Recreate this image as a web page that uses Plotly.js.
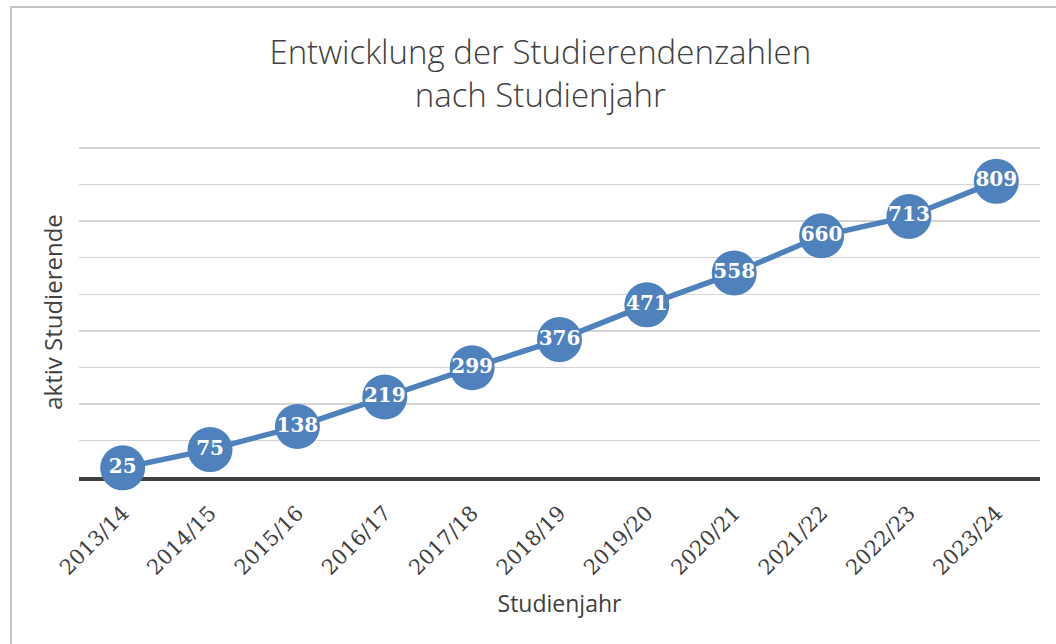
<!DOCTYPE html>
<html>
<head>
<meta charset="utf-8">
<script src="https://cdn.plot.ly/plotly-3.0.1.min.js"></script>
<style>
html, body { margin: 0; padding: 0; background: #ffffff; overflow: hidden; }
#chart { position: absolute; left: 0; top: 0; width: 1056px; height: 644px; }
#frame { position: absolute; left: 10px; top: 6px; width: 1046px; height: 638px;
         border-left: 2px solid #c4c4c4; border-top: 2px solid #c4c4c4; pointer-events: none; }
</style>
</head>
<body>
<div id="chart"></div>
<div id="frame"></div>
<script>
// Data
const studienjahre = ["2013/14", "2014/15", "2015/16", "2016/17", "2017/18", "2018/19",
                      "2019/20", "2020/21", "2021/22", "2022/23", "2023/24"];
const aktivStudierende = [25, 75, 138, 219, 299, 376, 471, 558, 660, 713, 809];
const titelText = "Entwicklung der Studierendenzahlen<br>nach Studienjahr";
const xTitel = "Studienjahr";
const yTitel = "aktiv Studierende";

const trace = {
  type: "scatter",
  mode: "lines+markers+text",
  x: studienjahre,
  y: aktivStudierende,
  text: aktivStudierende.map(String),
  textposition: "middle center",
  textfont: { family: "DejaVu Serif", size: 20, color: "#ffffff", weight: "bold" },
  line: { color: "#4f81bd", width: 5.5 },
  marker: { color: "#4f81bd", size: 45, line: { width: 0 } },
  cliponaxis: false,
  hoverinfo: "x+y",
  showlegend: false
};

const layout = {
  width: 1056,
  height: 644,
  margin: { l: 79, r: 16, t: 147, b: 167, autoexpand: false },
  paper_bgcolor: "#ffffff",
  plot_bgcolor: "#ffffff",
  title: {
    text: titelText,
    font: { family: "Open Sans", size: 33, color: "#404040", weight: 300 },
    x: 0.48, xanchor: "center",
    y: 0.9, yanchor: "middle",
    xref: "paper", yref: "container"
  },
  xaxis: {
    type: "category",
    range: [-0.5, 10.5],
    showgrid: false,
    zeroline: false,
    showline: true,
    linecolor: "#404040",
    linewidth: 3.5,
    layer: "below traces",
    ticks: "",
    tickangle: -45,
    ticklabelstandoff: 12,
    tickfont: { family: "DejaVu Serif", size: 21, color: "#404040" },
    title: { text: xTitel, font: { family: "Open Sans", size: 23, color: "#404040" }, standoff: 18 },
    automargin: false,
    fixedrange: true
  },
  yaxis: {
    range: [0, 903],
    dtick: 100,
    showgrid: true,
    gridcolor: "#d4d4d4",
    gridwidth: 1.5,
    zeroline: false,
    showline: false,
    showticklabels: false,
    ticks: "",
    title: { text: yTitel, font: { family: "Open Sans", size: 24, color: "#404040" }, standoff: 8 },
    automargin: false,
    fixedrange: true
  },
  showlegend: false
};

Plotly.newPlot("chart", [trace], layout, { displayModeBar: false, staticPlot: true });
</script>
</body>
</html>
